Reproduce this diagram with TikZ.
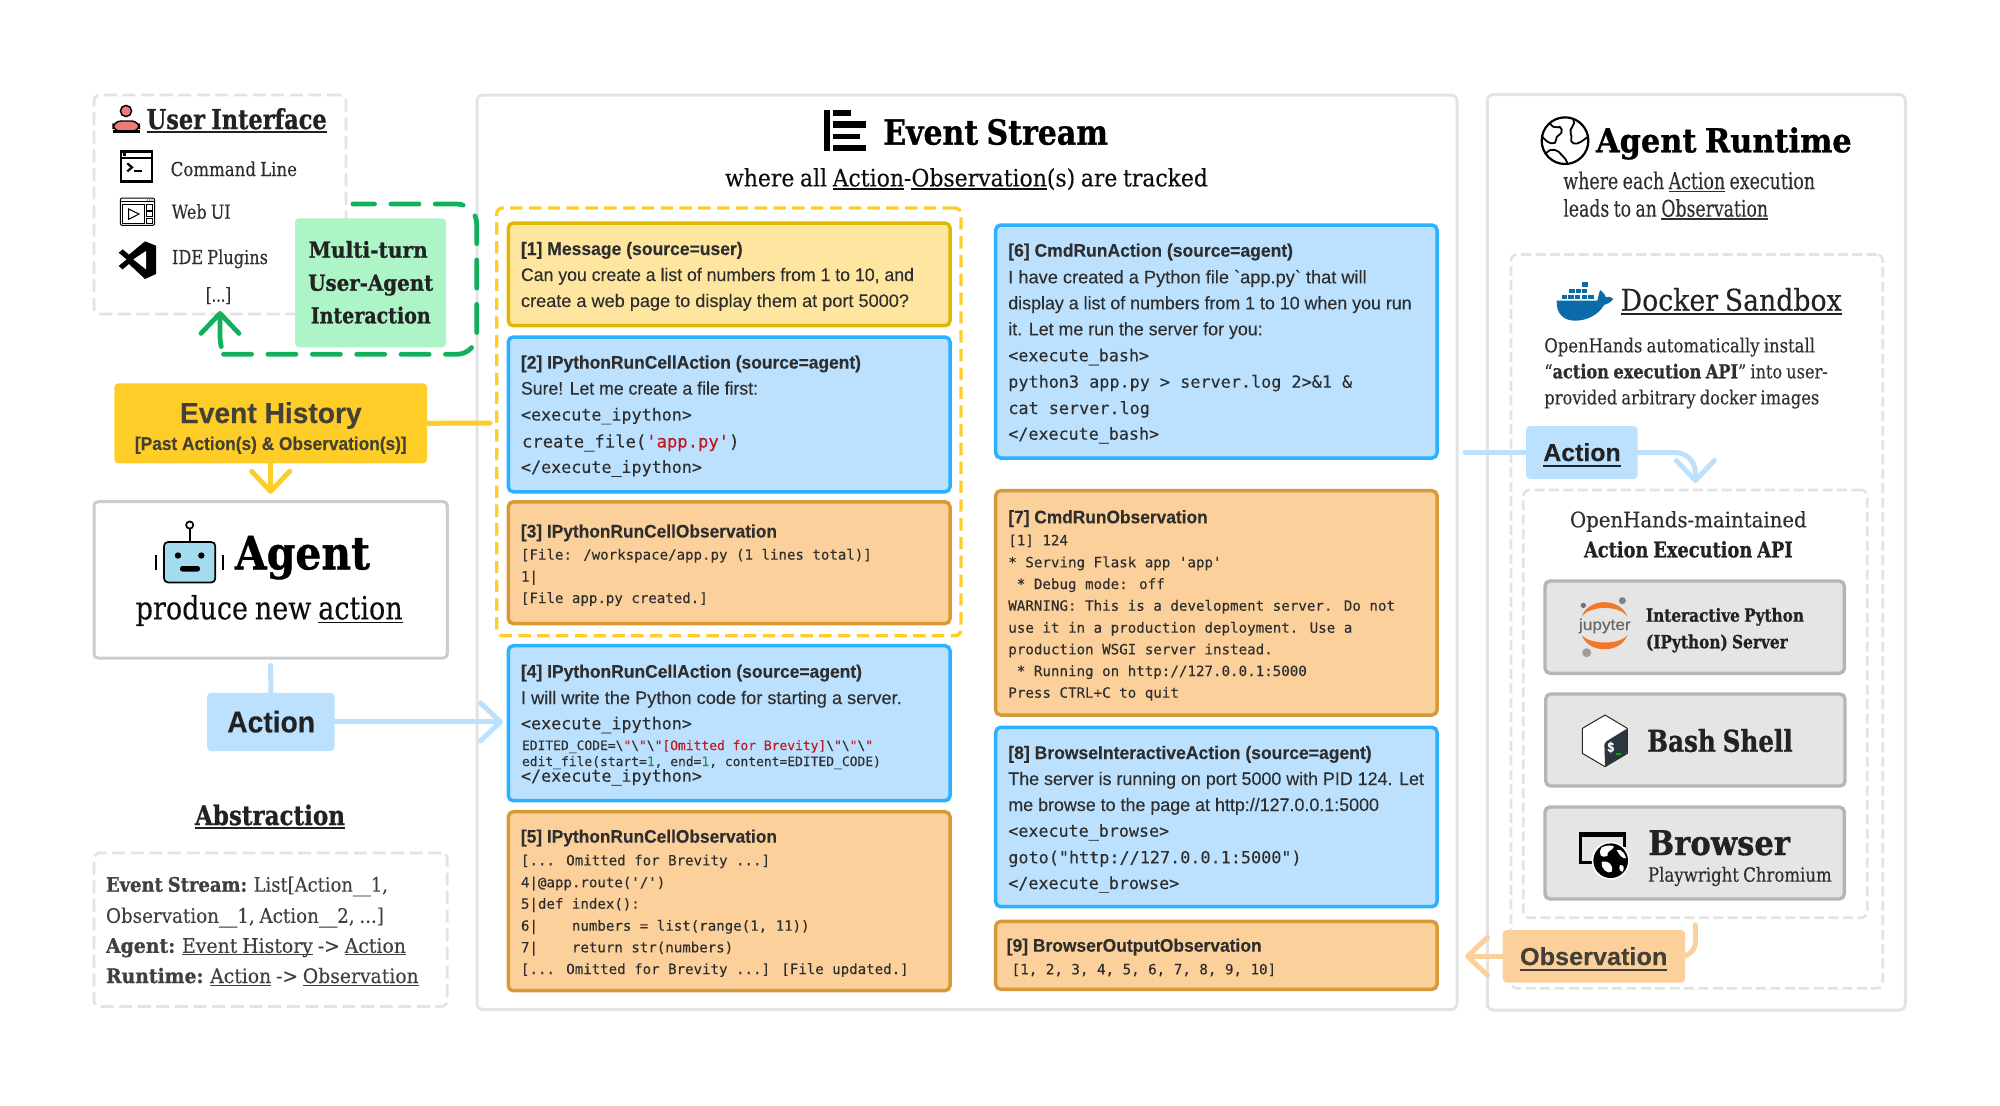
\documentclass[tikz,border=0pt]{standalone}
\usepackage{fontspec}
\usepackage{graphicx}
\usetikzlibrary{arrows.meta}
\newfontfamily\fserif[Ligatures=TeX,WordSpace=0.8,FakeBold=0.25,BoldFeatures={FakeBold=0.9}]{DejaVu Serif}
\newfontfamily\fsans[FakeBold=0.15,BoldFeatures={FakeBold=0.25}]{Liberation Sans}
\newfontfamily\fmono[FakeBold=0.12]{DejaVu Sans Mono}
\newcommand\fsr[1]{\fserif\mdseries\fontsize{#1}{#1}\selectfont}
\newcommand\fsrb[1]{\fserif\bfseries\fontsize{#1}{#1}\selectfont}
\newcommand\fsn[1]{\fsans\mdseries\fontsize{#1}{#1}\selectfont}
\newcommand\fsnb[1]{\fsans\bfseries\fontsize{#1}{#1}\selectfont}
\newcommand\fmn[1]{\fmono\fontsize{#1}{#1}\selectfont}
\newsavebox\fitbox
\newcommand\fitto[2]{\sbox\fitbox{#2}\pgfmathsetmacro\fitf{(#1*0.5)/\wd\fitbox}\scalebox{\fitf}[1]{\usebox\fitbox}}
\newcommand\ulx[1]{\leavevmode\sbox0{#1}\rlap{\rule[-0.13em]{\wd0}{0.055em}}\box0 }
\newcommand\uly[1]{\leavevmode\sbox0{#1}\rlap{\rule[-0.24em]{\wd0}{0.06em}}\box0 }
\newcounter{tnum}
% text line: x1, x2, baseline y, font, text
\newcommand\tx[5]{\stepcounter{tnum}\pgfmathsetmacro\tw{#2-#1}\node[txt] (t\thetnum) at (#1,#3) {\fitto{\tw}{#4#5}};}
% mono line: x, y, size, text
\newcommand\mln[4]{\stepcounter{tnum}\node[txt] (t\thetnum) at (#1,#2) {\fmn{#3}\color{inkb}#4};}
% box: name, style, x1,y1,x2,y2
\newcommand\bx[6]{\pgfmathsetmacro\bw{(#5-#3)*.5}\pgfmathsetmacro\bh{(#6-#4)*.5}\node[#2,minimum width=\bw pt,minimum height=\bh pt] (#1) at ({(#3+#5)/2},{(#4+#6)/2}) {};}
\definecolor{graybd}{HTML}{E3E3E3}
\definecolor{ylw}{HTML}{FFCD28}
\definecolor{grn}{HTML}{12B05A}
\definecolor{limeb}{HTML}{ADF5C6}
\definecolor{acb}{HTML}{BBE1FF}
\definecolor{acs}{HTML}{2BB1FF}
\definecolor{obf}{HTML}{FBD09B}
\definecolor{obs}{HTML}{D69A38}
\definecolor{msf}{HTML}{FEE5A0}
\definecolor{mss}{HTML}{E0B800}
\definecolor{tbf}{HTML}{E5E5E5}
\definecolor{tbs}{HTML}{B5B5B5}
\definecolor{inka}{HTML}{222222}
\definecolor{inkb}{HTML}{2E2E2E}
\definecolor{redc}{HTML}{C01820}
\definecolor{grnc}{HTML}{2E8B57}
\definecolor{dock}{HTML}{0B6BA8}
\definecolor{jupc}{HTML}{F37726}
\definecolor{pinkc}{HTML}{EE7B7B}
\definecolor{robo}{HTML}{A3DCEF}
\definecolor{bashd}{HTML}{2B3540}
\newcommand\redq{\textcolor{redc}{"}}
\newcommand\bq{\textbackslash\redq}
\tikzset{
  txt/.style={anchor=base west,inner sep=0pt,outer sep=0pt},
  panel/.style={draw=graybd,line width=1.5pt,rounded corners=3pt,inner sep=0pt},
  dpanelA/.style={draw=graybd,line width=1.4pt,rounded corners=3pt,inner sep=0pt,dash pattern=on 6.5pt off 2.8pt},
  dpanelB/.style={draw=graybd,line width=1.3pt,rounded corners=3pt,inner sep=0pt,dash pattern=on 5pt off 2.2pt},
  agentbox/.style={draw=black!20,fill=white,line width=1.5pt,rounded corners=2pt,inner sep=0pt},
  group/.style={draw=ylw,line width=1.7pt,rounded corners=3pt,inner sep=0pt,dash pattern=on 6.2pt off 3.2pt},
  msgev/.style={draw=mss,fill=msf,line width=1.75pt,rounded corners=2.5pt,inner sep=0pt},
  actev/.style={draw=acs,fill=acb,line width=1.75pt,rounded corners=2.5pt,inner sep=0pt},
  obsev/.style={draw=obs,fill=obf,line width=1.75pt,rounded corners=2.5pt,inner sep=0pt},
  tool/.style={draw=tbs,fill=tbf,line width=1.7pt,rounded corners=2.5pt,inner sep=0pt},
  tagbl/.style={fill=acb,rounded corners=2pt,inner sep=0pt},
  tagob/.style={fill=obf,rounded corners=2pt,inner sep=0pt},
  taggn/.style={fill=limeb,rounded corners=2pt,inner sep=0pt},
  tagyl/.style={fill=ylw,rounded corners=2pt,inner sep=0pt},
  barb/.style={-{Straight Barb[length=10pt,width=19pt,round]}},
  lnyl/.style={draw=ylw,line width=2.5pt,line cap=round},
  lnbl/.style={draw=acb,line width=2.5pt,line cap=round},
  lnob/.style={draw=obf,line width=2.5pt,line cap=round},
  lngn/.style={draw=grn,line width=2.4pt,line cap=round,dash pattern=on 14pt off 8.2pt,dash phase=3.25pt},
  zA/.style={shift={(80,80)},x=.16667pt,y=-.16667pt},
  zG/.style={shift={(1460,90)},x=.16667pt,y=-.16667pt},
  zB/.style={shift={(1460,550)},x=.16667pt,y=-.16667pt},
}
\begin{document}
\begin{tikzpicture}[x=0.5pt,y=-0.5pt]
\useasboundingbox (0,0) rectangle (2000,1105);
% panels
\bx{ui}{dpanelA}{94}{95}{346}{314}
\bx{stream}{panel}{477}{95}{1457}{1009.5}
\bx{runtime}{panel}{1487.3}{94.5}{1905.3}{1010}
\bx{abs}{dpanelA}{94}{853}{447.3}{1006.5}
\bx{docker}{dpanelB}{1511}{254.5}{1882.7}{988.3}
\bx{api}{dpanelB}{1523.3}{490}{1867.3}{917.7}
\bx{grp}{group}{496.7}{208}{961}{635.7}
% green loop
\coordinate (gstart) at (353,204);
\coordinate (gtip) at ([yshift=2.2pt]ui.south);
\draw[lngn,rounded corners=10pt,barb] (gstart) -- (476.7,204) -- (476.7,354.3) -- (238,354.3) [rounded corners=0pt] .. controls (226,354.3) and (220,350) .. (220,335) -- (gtip);
\bx{multi}{taggn}{295}{218.3}{446}{347.3}
\tx{308.7}{427.7}{257.7}{\fsrb{11}\color{inka}}{Multi-turn}
\tx{308.3}{433.3}{290.7}{\fsrb{11}\color{inka}}{User-Agent}
\tx{310.7}{430.7}{323.3}{\fsrb{11}\color{inka}}{Interaction}
% user interface
\fill[pinkc,draw=black,line width=.7pt] (126,111) circle[radius=5.6];
\filldraw[fill=pinkc,draw=black,line width=.7pt,rounded corners=4pt] (113,131.5) -- (113,121) -- (139.5,121) -- (139.5,131.5) -- cycle;
\draw[black,line width=1.3pt] (112.5,131.5) -- (140,131.5);
\tx{146.7}{326.7}{129}{\fsrb{13.7}\color{inka}}{\ulx{User Interface}}
\begin{scope}[zA]
  \draw[line width=1.2pt,fill=white] (123,215) rectangle (216,305);
  \draw[line width=.9pt] (123,233) -- (216,233);
  \fill (130,220) rectangle (138,228);
  \draw[line width=1.1pt] (142,250) -- (156,262) -- (142,274);
  \draw[line width=1.1pt] (162,273) -- (186,273);
  % web ui icon
  \draw[line width=.5pt,rounded corners=1pt] (121,354) rectangle (224,436);
  \draw[line width=.4pt] (121,364) -- (224,364);
  \draw[line width=.5pt] (127,372) rectangle (194,430);
  \draw[line width=.5pt] (146,387) -- (177,402) -- (146,418) -- cycle;
  \draw[line width=.5pt] (200,374) rectangle (218,390);
  \draw[line width=.5pt] (200,394) rectangle (218,410);
  \draw[line width=.5pt] (200,414) rectangle (218,430);
  \foreach \q in {202,209,216}{\fill (\q,360) circle[radius=1.8];}
  % vs code icon
  \fill (195,484) -- (228,497) -- (228,582) -- (195,597) -- (147,552) -- (128,568) -- (116,558) -- (140,538) -- (116,518) -- (128,508) -- (147,524) -- cycle;
  \fill[white] (160,538) -- (198,513) -- (198,568) -- cycle;
\end{scope}
\tx{170.7}{297}{176}{\fsr{9.6}\color{inkb}}{Command Line}
\tx{171.7}{230.7}{218.7}{\fsr{9.6}\color{inkb}}{Web UI}
\tx{172}{268}{264}{\fsr{9.6}\color{inkb}}{IDE Plugins}
\tx{206}{231}{301.6}{\fsr{9.6}\color{inkb}}{[...]}
% event history
\bx{hist}{tagyl}{114.3}{383.3}{427}{463.3}
\tx{180}{361.7}{423}{\fsnb{14.4}\color{black!85!yellow}}{Event History}
\tx{135}{406.7}{450}{\fsnb{9.3}\color{black!85!yellow}}{[Past Action(s) \& Observation(s)]}
\coordinate (histend) at (490,423);
\draw[lnyl] (hist.east) -- (histend);
% agent
\bx{agent}{agentbox}{94}{501.7}{447.3}{658}
\coordinate (agenttop) at ([yshift=3.2pt]agent.north);
\draw[lnyl,barb] (hist.south) -- (agenttop);
\filldraw[fill=robo,draw=black,line width=.85pt,rounded corners=2pt] (164,542) rectangle (215.3,582.4);
\draw[line width=.85pt] (189.7,542) -- (189.7,529);
\draw[line width=.85pt,fill=white] (189.7,525) circle[radius=3.6];
\fill (178,555.5) circle[radius=3.2];
\fill (201.3,555.5) circle[radius=3.2];
\fill[rounded corners=1.2pt] (180,566) rectangle (200,571.5);
\draw[line width=.9pt] (156.3,554.5) -- (156.3,570);
\draw[line width=.9pt] (223,554.5) -- (223,570);
\tx{235}{370}{569.3}{\fsrb{23}\color{black}}{Agent}
\tx{135.7}{402.7}{619.3}{\fsr{16}\color{black!95}}{produce new \ulx{action}}
% action tag left
\bx{actA}{tagbl}{207}{692.8}{334.7}{751}
\coordinate (agentbot) at ([yshift=-3pt]agent.south);
\draw[lnbl] (agentbot) -- (actA.north);
\tx{227.3}{315}{732.4}{\fsnb{15}\color{inka}}{Action}
\coordinate (e4in) at (503,721.9);
\draw[lnbl,barb] (actA.east) -- (e4in);
% abstraction
\tx{195}{345}{825}{\fsrb{13.5}\color{inka}}{\ulx{Abstraction}}
\tx{106}{388}{891.7}{\fsr{10}\color{black!75}}{{\fsrb{10}Event Stream:} List[Action\_\_1,}
\tx{106}{384}{922.8}{\fsr{10}\color{black!75}}{Observation\_\_1, Action\_\_2, ...]}
\tx{106}{406}{952.8}{\fsr{10}\color{black!75}}{{\fsrb{10}Agent:} \ulx{Event History} -> \ulx{Action}}
\tx{106}{418.7}{983}{\fsr{10}\color{black!75}}{{\fsrb{10}Runtime:} \ulx{Action} -> \ulx{Observation}}
% event stream header
\fill (824,109.6) rectangle (830,151.4);
\fill (833.3,109.6) rectangle (851,115.7);
\fill (833.3,121.4) rectangle (866,127.5);
\fill (833.3,133.6) rectangle (860,139.3);
\fill (833.3,145.4) rectangle (866,151.4);
\tx{883.3}{1108}{144.6}{\fsrb{17.3}\color{black}}{Event Stream}
\tx{725}{1208}{186.4}{\fsr{12}\color{black!95}}{where all \ulx{Action}-\ulx{Observation}(s) are tracked}
% events left
\bx{e1}{msgev}{508.3}{223}{950}{325.7}
\tx{521}{742.7}{255}{\fsnb{9.1}\color{inkb}}{[1] Message (source=user)}
\tx{521}{914}{281}{\fsn{9.1}\color{inkb}}{Can you create a list of numbers from 1 to 10, and}
\tx{521}{909}{307}{\fsn{9.1}\color{inkb}}{create a web page to display them at port 5000?}
\bx{e2}{actev}{508.3}{337}{950}{491.8}
\tx{521}{861}{368.6}{\fsnb{9.1}\color{inkb}}{[2] IPythonRunCellAction (source=agent)}
\tx{521}{758}{394.6}{\fsn{9.1}\color{inkb}}{Sure! Let me create a file first:}
\mln{521}{420.5}{8.35}{<execute\_ipython>}
\mln{522}{447.5}{8.6}{create\_file(\textcolor{redc}{'app.py'})}
\mln{521}{472.9}{8.35}{</execute\_ipython>}
\bx{e3}{obsev}{508.3}{501.8}{950}{623.6}
\tx{521}{777}{537.5}{\fsnb{9.1}\color{inkb}}{[3] IPythonRunCellObservation}
\mln{521}{559.6}{7.05}{[File: /workspace/app.py (1 lines total)]}
\mln{521}{581.5}{7.05}{1|}
\mln{521}{603}{7.05}{[File app.py created.]}
\bx{e4}{actev}{508.3}{645.7}{950}{800.7}
\tx{521}{862}{677.7}{\fsnb{9.1}\color{inkb}}{[4] IPythonRunCellAction (source=agent)}
\tx{521}{901.7}{704}{\fsn{9.1}\color{inkb}}{I will write the Python code for starting a server.}
\mln{521}{729.3}{8.35}{<execute\_ipython>}
\mln{522}{750}{6.48}{EDITED\_CODE=\bq\bq\bq\textcolor{redc}{[Omitted for Brevity]}\bq\bq\bq}
\mln{522}{766}{6.48}{edit\_file(start=\textcolor{grnc}{1}, end=\textcolor{grnc}{1}, content=EDITED\_CODE)}
\mln{521}{781.7}{8.35}{</execute\_ipython>}
\bx{e5}{obsev}{508.3}{811.7}{950}{990.7}
\tx{521}{777}{842.7}{\fsnb{9.1}\color{inkb}}{[5] IPythonRunCellObservation}
\mln{521}{865.3}{7.05}{[... Omitted for Brevity ...]}
\mln{521}{887.3}{7.05}{4|@app.route('/')}
\mln{521}{908.7}{7.05}{5|def index():}
\mln{521}{930.7}{7.05}{6|~~~~numbers = list(range(1, 11))}
\mln{521}{952.3}{7.05}{7|~~~~return str(numbers)}
\mln{521}{974}{7.05}{[... Omitted for Brevity ...] [File updated.]}
% events right
\bx{e6}{actev}{995.7}{225}{1437}{458}
\tx{1008.3}{1293}{256.7}{\fsnb{9.1}\color{inkb}}{[6] CmdRunAction (source=agent)}
\tx{1008.3}{1366.7}{283.3}{\fsn{9.1}\color{inkb}}{I have created a Python file `app.py` that will}
\tx{1008.3}{1411.7}{309.3}{\fsn{9.1}\color{inkb}}{display a list of numbers from 1 to 10 when you run}
\tx{1008.3}{1262.7}{335.3}{\fsn{9.1}\color{inkb}}{it. Let me run the server for you:}
\mln{1008.3}{361.3}{8.35}{<execute\_bash>}
\mln{1008.3}{387.7}{8.4}{python3 app.py > server.log 2>\&1 \&}
\mln{1008.3}{414}{8.4}{cat server.log}
\mln{1008.3}{439.7}{8.35}{</execute\_bash>}
\bx{e7}{obsev}{995.7}{490.7}{1437}{715}
\tx{1008.3}{1207.7}{523.3}{\fsnb{9.1}\color{inkb}}{[7] CmdRunObservation}
\mln{1008.3}{545.3}{7.085}{[1] 124}
\mln{1008.3}{567.3}{7.085}{* Serving Flask app 'app'}
\mln{1008.3}{589}{7.085}{~* Debug mode: off}
\mln{1008.3}{610.7}{7.085}{WARNING: This is a development server. Do not}
\mln{1008.3}{632.7}{7.085}{use it in a production deployment. Use a}
\mln{1008.3}{654.3}{7.085}{production WSGI server instead.}
\mln{1008.3}{676}{7.085}{~* Running on http://127.0.0.1:5000}
\mln{1008.3}{697.7}{7.085}{Press CTRL+C to quit}
\bx{e8}{actev}{995.7}{727.3}{1437}{906.7}
\tx{1008.3}{1371.7}{759}{\fsnb{9.1}\color{inkb}}{[8] BrowseInteractiveAction (source=agent)}
\tx{1008.3}{1424}{785}{\fsn{9.1}\color{inkb}}{The server is running on port 5000 with PID 124. Let}
\tx{1008.3}{1379}{811}{\fsn{9.1}\color{inkb}}{me browse to the page at http://127.0.0.1:5000}
\mln{1008.3}{836.7}{8.35}{<execute\_browse>}
\mln{1008.3}{863.3}{8.4}{goto("http://127.0.0.1:5000")}
\mln{1008.3}{889}{8.35}{</execute\_browse>}
\bx{e9}{obsev}{995.7}{921.3}{1437}{989.3}
\tx{1006.7}{1261.7}{951.7}{\fsnb{9.1}\color{inkb}}{[9] BrowserOutputObservation}
\mln{1011.7}{974.3}{7.085}{[1, 2, 3, 4, 5, 6, 7, 8, 9, 10]}
% runtime header
\begin{scope}[zG]
  \draw[line width=1.1pt] (315,152) circle[radius=70];
  \draw[line width=.9pt] (270,100) .. controls (285,125) and (300,100) .. (305,118) .. controls (310,135) and (285,135) .. (288,150) .. controls (290,165) and (265,165) .. (247,140);
  \draw[line width=.9pt] (340,88) .. controls (350,105) and (325,115) .. (332,130) .. controls (340,145) and (325,150) .. (340,160) .. controls (355,165) and (370,150) .. (384,140);
  \draw[line width=.9pt] (258,190) .. controls (275,170) and (295,180) .. (305,195) .. controls (315,205) and (320,210) .. (322,222);
  % whale
  \fill[dock] (290,632) -- (412,632) .. controls (415,618) and (418,608) .. (420,600) .. controls (432,608) and (436,618) .. (438,622) .. controls (448,618) and (455,622) .. (460,627) .. controls (450,640) and (440,642) .. (432,645) .. controls (415,675) and (380,692) .. (345,692) .. controls (310,692) and (288,670) .. (290,632) -- cycle;
  \foreach \q in {305,325,345,365,385}{\fill[dock] (\q,614) rectangle +(16,14);}
  \foreach \q in {328,347,366}{\fill[dock] (\q,596) rectangle +(16,14);}
  \fill[dock] (366,577) rectangle +(18,15);
\end{scope}
\tx{1596}{1851.7}{152.3}{\fsrb{16.5}\color{black}}{Agent Runtime}
\tx{1563.3}{1815}{189}{\fsr{11.5}\color{inkb}}{where each \ulx{Action} execution}
\tx{1563.3}{1768}{216.7}{\fsr{11.5}\color{inkb}}{leads to an \ulx{Observation}}
\tx{1620.7}{1841.7}{310.7}{\fsr{15}\color{inka}}{\ulx{Docker Sandbox}}
\tx{1544.3}{1815}{352.3}{\fsr{9.6}\color{inkb}}{OpenHands automatically install}
\tx{1544.3}{1827.7}{378.3}{\fsr{9.6}\color{inkb}}{“{\fsrb{9.6}action execution API}” into user-}
\tx{1544.3}{1819.3}{404.3}{\fsr{9.6}\color{inkb}}{provided arbitrary docker images}
% action tag right
\coordinate (actin) at (1465,452.5);
\draw[lnbl] (actin) -- (1540,452.5);
\coordinate (apitop) at (1695.3,483);
\draw[lnbl,barb,rounded corners=10pt] (1630,452.5) -- (1695.3,452.5) -- (apitop);
\bx{actB}{tagbl}{1526}{426}{1637.7}{479}
\tx{1543.3}{1620.7}{461}{\fsnb{12.3}\color{inka}}{\uly{Action}}
\tx{1570}{1806.7}{527.3}{\fsr{10.7}\color{inkb}}{OpenHands-maintained}
\tx{1584}{1792.7}{557.3}{\fsrb{10.7}\color{inka}}{Action Execution API}
% tools
\bx{jup}{tool}{1545}{581}{1844.3}{673.3}
\bx{bash}{tool}{1545.7}{694}{1845}{786}
\bx{brow}{tool}{1545}{807}{1844.3}{899}
\begin{scope}[zB]
  % jupyter
  \fill[jupc] (365,200) .. controls (385,142) and (482,142) .. (502,200) .. controls (480,165) and (390,165) .. (365,200) -- cycle;
  \fill[jupc] (365,255) .. controls (385,312) and (482,312) .. (502,255) .. controls (480,285) and (390,285) .. (365,255) -- cycle;
  \fill[black!55] (370,166) circle[radius=8];
  \fill[black!50] (487,152) circle[radius=10.5];
  \fill[black!38] (380,308) circle[radius=13.5];
  % bash
  \filldraw[fill=white,draw=black!85,line width=.5pt,line join=round] (435,495) -- (502,535) -- (502,610) -- (435,650) -- (367,610) -- (367,535) -- cycle;
  \fill[bashd,rounded corners=1pt] (502,535) -- (502,610) -- (435,650) -- (433,578) -- cycle;
  \draw[green!70!black,line width=.6pt] (468,612) -- (482,612);
  % browser
  \fill (358,846) rectangle (497,860);
  \fill (358,846) rectangle (367,942);
  \fill (358,933) rectangle (420,942);
  \fill (488,846) rectangle (497,890);
  \fill[white] (452,932) circle[radius=57];
  \fill (452,932) circle[radius=52];
  \fill[white] (425,892) .. controls (440,885) and (455,885) .. (462,890) .. controls (455,905) and (440,900) .. (442,918) .. controls (425,925) and (412,915) .. (425,892) -- cycle;
  \fill[white] (470,900) .. controls (485,895) and (497,915) .. (498,925) .. controls (485,925) and (478,915) .. (470,900) -- cycle;
  \fill[white] (425,935) .. controls (445,930) and (462,945) .. (455,965) .. controls (445,975) and (420,955) .. (425,935) -- cycle;
  \fill[white] (480,945) .. controls (490,945) and (495,950) .. (488,965) .. controls (480,965) and (475,955) .. (480,945) -- cycle;
\end{scope}
\tx{1579}{1630.7}{630}{\fsn{8}\color{black!60}}{jupyter}
\tx{1646}{1804}{621.7}{\fsrb{9.1}\color{inka}}{Interactive Python}
\tx{1646}{1787.7}{648.3}{\fsrb{9.1}\color{inka}}{(IPython) Server}
\tx{1607.5}{1614}{752}{\fsnb{7}\color{white}}{\$}
\tx{1647.3}{1792.7}{751.7}{\fsrb{15}\color{inka}}{Bash Shell}
\tx{1648.3}{1790}{855}{\fsrb{17}\color{inka}}{Browser}
\tx{1648}{1831.7}{881.7}{\fsr{9.8}\color{inkb}}{Playwright Chromium}
% observation tag
\coordinate (apibot) at (1695.3,925);
\coordinate (obsout) at (1465,956.3);
\draw[lnob,rounded corners=7pt] (apibot) -- (1695.3,956.3) -- (1670,956.3);
\draw[lnob,barb] (1520,956.3) -- (obsout);
\bx{obsB}{tagob}{1502.7}{930}{1685}{982.7}
\tx{1520}{1667.3}{965}{\fsnb{12.3}\color{black!85!yellow}}{\uly{Observation}}
\end{tikzpicture}
\end{document}
